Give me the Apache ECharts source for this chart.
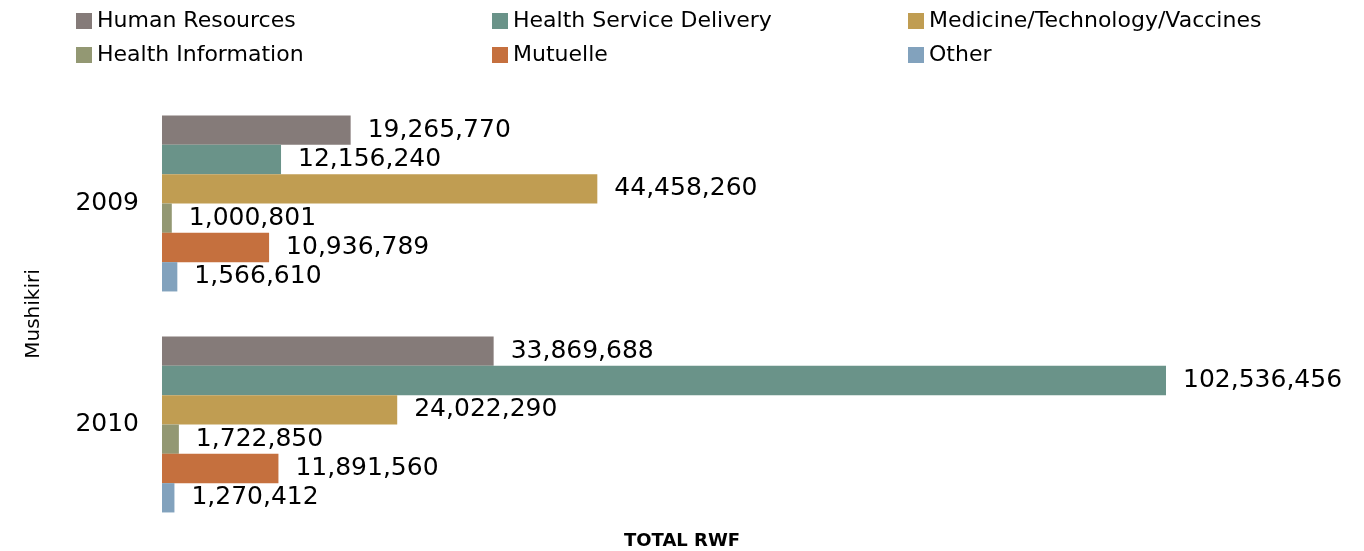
<!DOCTYPE html>
<html>
<head>
<meta charset="utf-8">
<script src="https://cdn.jsdelivr.net/npm/echarts@6/dist/echarts.min.js"></script>
<style>
  html, body { margin: 0; padding: 0; background: #fff; }
  #main { width: 1364px; height: 551px; }
</style>
</head>
<body>
<div id="main"></div>
<script>
  // 数据
  var years = ['2009', '2010'];
  var seriesNames = ['Human Resources', 'Health Service Delivery', 'Medicine/Technology/Vaccines',
    'Health Information', 'Mutuelle', 'Other'];
  var humanResources = [19265770, 33869688];
  var serviceDelivery = [12156240, 102536456];
  var medicine = [44458260, 24022290];
  var healthInfo = [1000801, 1722850];
  var mutuelle = [10936789, 11891560];
  var other = [1566610, 1270412];
  var colors = ['#857b79', '#6a9389', '#c09d52', '#939873', '#c5703e', '#82a2bd'];

  var values = [humanResources, serviceDelivery, medicine, healthInfo, mutuelle, other];
  var font = 'DejaVu Sans';

  var myChart = echarts.init(document.getElementById('main'));

  function fmt(v) {
    return String(v).replace(/\B(?=(\d{3})+(?!\d))/g, ',');
  }

  // 三列图例，每列两行
  function legendAt(names, left) {
    return {
      orient: 'vertical',
      left: left,
      top: 5,
      itemWidth: 16,
      itemHeight: 16,
      itemGap: 12,
      icon: 'rect',
      textStyle: { fontFamily: font, fontSize: 22, color: '#000' },
      data: names
    };
  }

  var option = {
    animation: false,
    title: {
      text: 'TOTAL RWF',
      left: 677,
      top: 527,
      textAlign: 'center',
      textStyle: { fontFamily: font, fontSize: 18, fontWeight: 'bold', color: '#000' }
    },
    legend: [
      legendAt([seriesNames[0], seriesNames[3]], 71),
      legendAt([seriesNames[1], seriesNames[4]], 487),
      legendAt([seriesNames[2], seriesNames[5]], 903)
    ],
    grid: { left: 162, top: 93, width: 1175, height: 442 },
    xAxis: {
      type: 'value',
      min: 0,
      max: 120000000,
      show: false
    },
    yAxis: {
      type: 'category',
      data: years,
      inverse: true,
      name: 'Mushikiri',
      nameLocation: 'middle',
      nameGap: 118,
      nameTextStyle: { fontFamily: font, fontSize: 20, color: '#000' },
      axisLine: { show: false },
      axisTick: { show: false },
      axisLabel: { fontFamily: font, fontSize: 25, color: '#000', margin: 23 }
    },
    series: seriesNames.map(function (name, i) {
      return {
        name: name,
        type: 'bar',
        data: values[i],
        barGap: '0%',
        barCategoryGap: '20.4%',
        itemStyle: { color: colors[i] },
        label: {
          show: true,
          position: 'right',
          distance: 17,
          fontFamily: font,
          fontSize: 25,
          color: '#000',
          formatter: function (p) { return fmt(p.value); }
        }
      };
    })
  };

  myChart.setOption(option);
</script>
</body>
</html>
